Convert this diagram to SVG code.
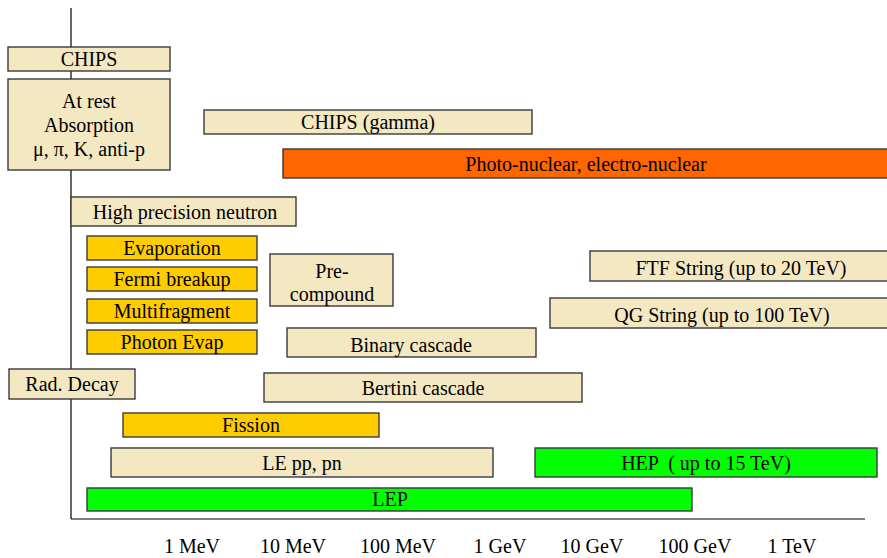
<svg xmlns="http://www.w3.org/2000/svg" width="887" height="558" viewBox="0 0 887 558">
  <style>
    .box rect { stroke: #3a3a3a; stroke-width: 1.4; }
    .beige rect { fill: #F3E8C2; }
    .orange rect { fill: #FFCC00; }
    .red rect { fill: #FF6600; }
    .green rect { fill: #00FF00; }
    text { font-family: "Liberation Serif", "Times New Roman", serif; font-size: 20px; fill: #000; text-anchor: middle; white-space: pre; }
    .axis { stroke: #000; stroke-width: 1.2; fill: none; }
  </style>
  <rect width="887" height="558" fill="#fff"/>

  <!-- energy axes -->
  <g id="axes">
    <line class="axis" x1="71" y1="8" x2="71" y2="519"/>
    <line class="axis" x1="71" y1="519" x2="865" y2="519"/>
  </g>

  <!-- model bars -->
  <g id="chips" class="box beige"><rect x="8" y="47" width="162" height="24"/><text x="89" y="66">CHIPS</text></g>
  <g id="at-rest" class="box beige"><rect x="8" y="79" width="162" height="91"/>
    <text x="89" y="108">At rest</text><text x="89" y="132">Absorption</text><text x="89" y="156">μ, π, K, anti-p</text></g>
  <g id="chips-gamma" class="box beige"><rect x="204" y="110" width="328" height="24"/><text x="368" y="129">CHIPS (gamma)</text></g>
  <g id="photo-nuclear" class="box red"><rect x="283" y="149" width="610" height="29"/><text x="586" y="171">Photo-nuclear, electro-nuclear</text></g>
  <g id="hp-neutron" class="box beige"><rect x="71" y="197" width="225" height="29"/><text x="185" y="219">High precision neutron</text></g>
  <g id="evaporation" class="box orange"><rect x="87" y="236" width="170" height="24"/><text x="172" y="255">Evaporation</text></g>
  <g id="fermi" class="box orange"><rect x="87" y="267" width="170" height="24"/><text x="172" y="286">Fermi breakup</text></g>
  <g id="multifragment" class="box orange"><rect x="87" y="299" width="170" height="24"/><text x="172" y="318">Multifragment</text></g>
  <g id="photon-evap" class="box orange"><rect x="87" y="330" width="170" height="24"/><text x="172" y="349">Photon Evap</text></g>
  <g id="precompound" class="box beige"><rect x="270" y="254" width="123" height="52"/>
    <text x="332" y="278">Pre-</text><text x="332" y="301">compound</text></g>
  <g id="binary" class="box beige"><rect x="287" y="328" width="249" height="29"/><text x="411" y="352">Binary cascade</text></g>
  <g id="ftf" class="box beige"><rect x="590" y="251" width="303" height="30"/><text x="741" y="275">FTF String (up to 20 TeV)</text></g>
  <g id="qgs" class="box beige"><rect x="550" y="298" width="343" height="30"/><text x="722" y="322">QG String (up to 100 TeV)</text></g>
  <g id="rad-decay" class="box beige"><rect x="9" y="369" width="126" height="30"/><text x="72" y="391">Rad. Decay</text></g>
  <g id="bertini" class="box beige"><rect x="264" y="373" width="318" height="29"/><text x="423" y="395">Bertini cascade</text></g>
  <g id="fission" class="box orange"><rect x="123" y="413" width="256" height="24"/><text x="251" y="432">Fission</text></g>
  <g id="lepp" class="box beige"><rect x="111" y="448" width="382" height="29"/><text x="302" y="470">LE pp, pn</text></g>
  <g id="hep" class="box green"><rect x="535" y="448" width="342" height="29"/><text x="706" y="470">HEP  ( up to 15 TeV)</text></g>
  <g id="lep" class="box green"><rect x="87" y="488" width="605" height="23"/><text x="390" y="506">LEP</text></g>

  <!-- energy scale labels -->
  <g id="scale">
    <text x="192" y="553">1 MeV</text>
    <text x="293" y="553">10 MeV</text>
    <text x="398" y="553">100 MeV</text>
    <text x="500" y="553">1 GeV</text>
    <text x="592" y="553">10 GeV</text>
    <text x="695" y="553">100 GeV</text>
    <text x="792" y="553">1 TeV</text>
  </g>
</svg>
